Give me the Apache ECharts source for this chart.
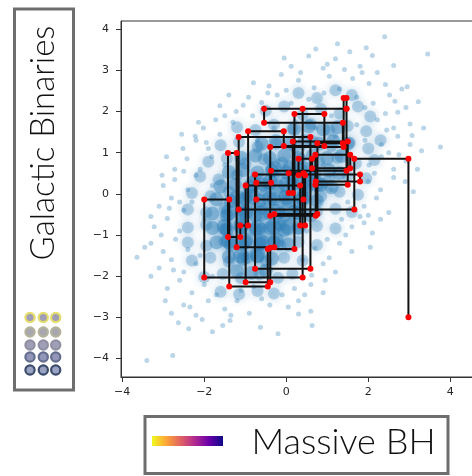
<!DOCTYPE html>
<html>
<head>
<meta charset="utf-8">
<script src="https://cdn.jsdelivr.net/npm/echarts@6/dist/echarts.min.js"></script>
<style>
  html, body { margin:0; padding:0; background:#fff; }
  #chart { width:472px; height:476px; }
</style>
</head>
<body>
<div id="chart"></div>
<script>
// tick labels on both axes
var xTicks = [-4, -2, 0, 2, 4];
var yTicks = [-4, -3, -2, -1, 0, 1, 2, 3, 4];

// faint outer samples of the galactic binary cloud
var cloudOuter = [
  [2.4,3.82],[3.45,3.4],[1.55,3.45],[0.55,3.35],[1.2,3.28],[1.8,3.1],[2.1,3.36],[0.9,3.05],[1.42,3.02],[0.12,3.1],[2.62,3.12],[0.72,3.52],[1.95,3.55],
  [-0.42,2.62],[0.3,2.76],[0.68,2.58],[1.05,2.86],[1.62,2.8],[2.02,2.68],[2.42,2.66],[-0.12,2.9],[1.3,2.55],[2.82,2.55],[0.0,2.52],[2.22,2.95],[-0.8,2.7],
  [-1.62,2.14],[-0.92,2.35],[-0.6,2.22],[-0.22,2.4],[0.12,2.2],[0.55,2.3],[0.92,2.45],[1.72,2.35],[2.12,2.2],[2.52,2.4],[2.92,2.1],[3.22,2.24],[-1.22,2.0],[2.72,1.98],[1.92,2.1],
  [-2.02,1.6],[-1.72,1.8],[-1.3,1.74],[-0.82,1.9],[-0.3,1.6],[0.22,1.75],[0.72,1.6],[1.1,1.9],[1.72,1.68],[2.22,1.8],[2.62,1.6],[3.02,1.7],[2.42,1.95],[-2.22,1.4],[-2.14,1.74],
  [-2.52,1.1],[-2.2,1.3],[-1.9,1.1],[-1.62,1.45],[-0.7,1.3],[0.4,1.1],[1.2,1.4],[1.92,1.3],[2.32,1.2],[2.72,1.4],[3.02,1.2],[3.3,1.05],[3.76,1.14],[2.5,1.0],[3.07,1.42],
  [-2.72,0.6],[-2.42,0.85],[-2.1,0.6],[-1.82,0.9],[-1.5,0.7],[-0.2,0.8],[0.9,0.7],[2.02,0.7],[2.32,0.9],[2.62,0.6],[2.92,0.8],[3.2,0.6],[-2.92,0.9],
  [-3.03,0.45],[-2.72,0.35],[-2.4,0.1],[-2.2,0.45],[-1.8,0.2],[2.0,0.3],[2.3,0.1],[2.62,0.4],[2.9,0.3],[3.1,0.05],[-0.5,0.2],[1.1,0.1],[-3.0,0.2],
  [-3.1,-0.3],[-2.8,-0.1],[-2.5,-0.4],[-2.3,-0.2],[1.9,-0.3],[2.2,-0.1],[2.5,-0.45],[2.0,-0.52],[-0.8,-0.3],[0.8,-0.2],[2.3,-0.62],
  [-3.22,-0.8],[-2.9,-0.6],[-2.6,-0.9],[1.6,-0.8],[1.9,-0.7],[2.1,-0.95],[-0.2,-0.7],[0.5,-0.9],[1.35,-0.62],
  [-3.3,-1.2],[-3.0,-1.4],[-2.7,-1.1],[-2.4,-1.35],[1.3,-1.2],[1.6,-1.4],[1.0,-1.1],[-3.64,-1.54],[0.7,-1.32],[2.05,-1.3],
  [-3.1,-1.8],[-2.8,-1.6],[-2.5,-1.9],[-2.2,-1.7],[0.9,-1.7],[1.2,-1.9],[0.4,-1.6],[-3.3,-2.0],[0.62,-1.98],
  [-2.9,-2.3],[-2.6,-2.1],[-2.3,-2.4],[-2.0,-2.2],[-1.7,-2.45],[0.6,-2.2],[0.9,-2.4],[0.2,-2.3],[-0.1,-2.45],
  [-2.8,-2.9],[-2.5,-2.7],[-2.2,-2.95],[-1.9,-2.6],[-1.5,-2.8],[-1.2,-2.6],[-0.9,-2.9],[-0.4,-2.7],[0.3,-2.6],[0.6,-2.85],[-0.6,-2.55],[-1.1,-2.35],
  [-2.63,-3.13],[-2.38,-3.28],[-1.37,-3.08],[-0.63,-3.24],[0.3,-2.92],[0.63,-3.2],[-2.77,-3.93],[-3.4,-4.05],[-1.8,-3.35],[-0.2,-3.4],
  [-2.6,-0.2],[-2.0,-0.6],[-2.1,-1.5],[-1.8,-2.0],[-2.35,-2.75],[-1.35,-2.95],[-0.8,-2.25],[0.05,-2.75],[0.45,-2.45],[1.05,-1.55],
  [1.45,-1.0],[1.8,-0.55],[2.15,0.5],[2.45,1.55],[2.65,2.25],[1.85,2.95],[1.0,3.15],[0.35,2.95],[-0.45,2.45],[-1.05,2.15],
  [-1.5,1.9],[-1.95,1.25],[-2.5,0.55],[-2.85,-0.35],[-3.05,-1.0],[-2.75,-1.85],[-1.55,-3.2],[-2.05,-3.05],[0.95,-2.1],[1.5,-0.2],
  [2.75,0.95],[3.35,1.6],[2.95,2.6],[1.25,3.65],[-0.05,3.3],[-1.4,2.4],[-2.55,1.45],[-3.3,-0.55],[-3.45,-1.3],[-2.95,-2.6]
];

// denser middle of the cloud
var cloudMid = [
  [0.3,2.45],[0.75,2.33],[1.2,2.52],[1.6,2.4],
  [-0.5,2.02],[-0.05,2.12],[0.4,1.93],[0.85,2.06],[1.3,1.95],[1.75,2.12],[2.05,1.88],
  [-1.2,1.62],[-0.75,1.55],[-0.3,1.68],[0.15,1.58],[0.6,1.7],[1.05,1.55],[1.5,1.65],[1.95,1.52],
  [-1.6,1.18],[-1.15,1.26],[-0.7,1.14],[-0.25,1.22],[0.2,1.12],[0.65,1.28],[1.1,1.16],[1.55,1.24],[2.0,1.1],[2.3,1.3],
  [-1.9,0.78],[-1.45,0.86],[-1.0,0.74],[-0.55,0.84],[-0.1,0.76],[0.35,0.85],[0.8,0.78],[1.25,0.88],[1.7,0.74],[2.15,0.82],
  [-2.1,0.42],[-1.65,0.35],[-1.2,0.46],[-0.75,0.38],[-0.3,0.44],[0.15,0.34],[0.6,0.45],[1.05,0.36],[1.5,0.44],[1.95,0.38],
  [-2.3,0.02],[-1.85,-0.06],[-1.4,0.05],[-0.95,-0.04],[-0.5,0.06],[-0.05,-0.05],[0.4,0.04],[0.85,-0.06],[1.3,0.05],[1.75,-0.02],
  [-2.4,-0.38],[-1.95,-0.45],[-1.5,-0.35],[-1.05,-0.44],[-0.6,-0.36],[-0.15,-0.45],[0.3,-0.35],[0.75,-0.43],[1.2,-0.36],[1.6,-0.44],
  [-2.4,-0.82],[-1.95,-0.75],[-1.5,-0.85],[-1.05,-0.76],[-0.6,-0.84],[-0.15,-0.76],[0.3,-0.85],[0.75,-0.78],[1.2,-0.84],
  [-2.4,-1.18],[-1.95,-1.26],[-1.5,-1.15],[-1.05,-1.24],[-0.6,-1.16],[-0.15,-1.25],[0.3,-1.17],[0.75,-1.24],
  [-2.3,-1.62],[-1.85,-1.55],[-1.4,-1.65],[-0.95,-1.56],[-0.5,-1.64],[-0.05,-1.55],[0.4,-1.62],
  [-2.0,-2.02],[-1.55,-1.95],[-1.1,-2.05],[-0.65,-1.96],[-0.2,-2.04],[0.15,-1.94],
  [-1.6,-2.38],[-1.15,-2.44],[-0.7,-2.36],[-0.3,-2.42]
];

// core of the cloud
var cloudCore = [
  [0.2,1.58],[0.55,1.64],[0.9,1.57],[1.25,1.62],
  [-0.6,1.22],[-0.25,1.28],[0.1,1.22],[0.45,1.28],[0.8,1.22],[1.15,1.28],[1.5,1.22],
  [-1.1,0.88],[-0.75,0.93],[-0.4,0.87],[-0.05,0.93],[0.3,0.87],[0.65,0.93],[1.0,0.87],[1.35,0.92],
  [-1.4,0.53],[-1.05,0.58],[-0.7,0.52],[-0.35,0.57],[0.0,0.52],[0.35,0.58],[0.7,0.52],[1.05,0.57],[1.3,0.5],
  [-1.6,0.18],[-1.25,0.23],[-0.9,0.17],[-0.55,0.22],[-0.2,0.18],[0.15,0.23],[0.5,0.17],[0.85,0.22],[1.1,0.16],
  [-1.7,-0.13],[-1.35,-0.18],[-1.0,-0.12],[-0.65,-0.17],[-0.3,-0.13],[0.05,-0.18],[0.4,-0.12],[0.75,-0.17],
  [-1.8,-0.48],[-1.45,-0.53],[-1.1,-0.47],[-0.75,-0.52],[-0.4,-0.48],[-0.05,-0.53],[0.3,-0.47],[0.6,-0.52],
  [-1.8,-0.83],[-1.45,-0.88],[-1.1,-0.82],[-0.75,-0.87],[-0.4,-0.83],[-0.05,-0.88],[0.3,-0.82],
  [-1.7,-1.18],[-1.35,-1.23],[-1.0,-1.17],[-0.65,-1.22],[-0.3,-1.18],[0.05,-1.23],
  [-1.4,-1.53],[-1.05,-1.58],[-0.7,-1.52],[-0.35,-1.57],
  [-1.2,-1.88],[-0.85,-1.92],[-0.5,-1.87]
];

// darkest centre
var cloudInner = [
  [-0.3,0.6],[0.1,0.62],[0.5,0.58],
  [-0.8,0.25],[-0.4,0.28],[0.0,0.23],[0.4,0.27],[0.75,0.24],
  [-1.2,-0.1],[-0.8,-0.08],[-0.4,-0.12],[0.0,-0.09],[0.4,-0.11],
  [-1.4,-0.45],[-1.0,-0.43],[-0.6,-0.47],[-0.2,-0.44],[0.2,-0.46],
  [-1.5,-0.8],[-1.1,-0.78],[-0.7,-0.82],[-0.3,-0.79],[0.05,-0.81],
  [-1.4,-1.15],[-1.0,-1.13],[-0.6,-1.17],[-0.25,-1.14],
  [-1.1,-1.5],[-0.7,-1.48]
];

// the sampling chain (alternating y / x moves), starts at lower right
var chain = [
  [2.98,-3.00],[2.98,0.85],[1.66,0.85],[1.66,-0.38],[-1.16,-0.38],[-1.16,1.38],[0.59,1.38],[0.59,-1.82],
  [-0.76,-1.82],[-0.76,0.47],[1.80,0.47],[1.80,0.30],[0.72,0.30],[0.72,-0.53],[-0.39,-0.53],[-0.39,1.14],
  [1.40,1.14],[1.40,2.33],[1.47,2.33],[1.47,2.07],[0.40,2.07],[0.40,-2.03],[-2.00,-2.03],[-2.00,-0.14],
  [-1.39,-0.14],[-1.39,-2.25],[-0.45,-2.25],[-0.45,-1.34],[0.20,-1.34],[0.20,1.94],[0.93,1.94],[0.93,1.16],
  [-0.06,1.16],[-0.06,1.52],[-0.93,1.52],[-0.93,-0.77],[-1.12,-0.77],[-1.12,-1.05],[-1.42,-1.05],[-1.42,0.99],
  [-1.21,0.99],[-1.21,-1.30],[-0.29,-1.30],[-0.29,-0.49],[0.76,-0.49],[0.76,1.23],[1.38,1.23],[1.38,1.73],
  [-0.54,1.73],[-0.54,2.07],[1.47,2.07],[1.47,0.56],[-0.37,0.56],[-0.37,0.27],[-0.73,0.27],[-0.73,-0.14],
  [0.42,-0.14],[0.42,0.50],[0.06,0.50],[0.06,0.02],[0.16,0.02],[0.16,1.27],[1.50,1.27],[1.50,0.22],
  [0.71,0.22],[0.71,0.95],[1.56,0.95],[1.56,0.62],[0.63,0.62],[0.63,0.85],[0.30,0.85],[0.30,0.45],
  [0.46,0.45],[0.46,-0.77],[0.34,-0.77],[0.34,0.20],[-0.99,0.20],[-0.99,-2.15],[-0.39,-2.15],[-0.39,-1.31]
];

// legend swatches
var gbFill = ['#a09db6', '#a8a7b0', '#a09fb8', '#9296b8', '#9aa2c2'];
var gbEdge = ['#e6de6a', '#b4b29a', '#9190a2', '#646e8e', '#3c4c6c'];
var bhColors = ['#f0f921', '#fca636', '#e16462', '#b12a90', '#6a00a8', '#0d0887'];

function fmt(v) {
  return v < 0 ? '\u2212' + Math.abs(v) : '' + v;
}

var chart = echarts.init(document.getElementById('chart'), null, {renderer: 'canvas'});

var graphics = [];
// left legend box
graphics.push({
  type: 'rect', shape: {x: 14.5, y: 9, width: 59, height: 381},
  style: {fill: '#fff', stroke: '#6e6e6e', lineWidth: 3}
});
graphics.push({
  type: 'text', x: 43, y: 143, rotation: Math.PI / 2,
  style: {text: 'Galactic Binaries', font: '300 33px Lato', fill: '#111',
          textAlign: 'center', textVerticalAlign: 'middle'}
});
var colX = [30, 43.3, 55.7];
var rowY = [317.5, 332, 345, 357, 370];
for (var r = 0; r < rowY.length; r++) {
  for (var c = 0; c < colX.length; c++) {
    graphics.push({
      type: 'circle', shape: {cx: colX[c], cy: rowY[r], r: 4.6},
      style: {fill: gbFill[r], stroke: gbEdge[r], lineWidth: 2.2}
    });
  }
}
// bottom legend box
graphics.push({
  type: 'rect', shape: {x: 145, y: 416.5, width: 303, height: 57},
  style: {fill: '#fff', stroke: '#6e6e6e', lineWidth: 3}
});
var stops = [];
for (var i = 0; i < bhColors.length; i++) {
  stops.push({offset: i / (bhColors.length - 1), color: bhColors[i]});
}
graphics.push({
  type: 'rect', shape: {x: 152, y: 436, width: 71, height: 10},
  style: {fill: new echarts.graphic.LinearGradient(0, 0, 1, 0, stops)}
});
graphics.push({
  type: 'text', x: 343.5, y: 442,
  style: {text: 'Massive BH', font: '300 36px Lato', fill: '#111',
          textAlign: 'center', textVerticalAlign: 'middle'}
});

var soft = {color: '#1f77b4', shadowColor: '#1f77b4', shadowBlur: 8};

var option = {
  animation: false,
  backgroundColor: '#fff',
  grid: {
    left: 121, top: 21, width: 360, height: 356,
    outerBoundsMode: 'none', containLabel: false,
    show: true, borderColor: '#333', borderWidth: 1
  },
  xAxis: {
    type: 'value', min: -4.03, max: 4.75,
    splitLine: {show: false},
    axisLine: {show: true, onZero: false, lineStyle: {color: '#333'}},
    axisTick: {show: true, length: 5, customValues: xTicks, lineStyle: {color: '#333'}},
    axisLabel: {customValues: xTicks, formatter: fmt, margin: 10,
                color: '#262626', fontSize: 11, fontFamily: 'DejaVu Sans'}
  },
  yAxis: {
    type: 'value', min: -4.45, max: 4.2,
    splitLine: {show: false},
    axisLine: {show: true, onZero: false, lineStyle: {color: '#333'}},
    axisTick: {show: true, length: 5, customValues: yTicks, lineStyle: {color: '#333'}},
    axisLabel: {customValues: yTicks, formatter: fmt, margin: 12,
                color: '#262626', fontSize: 11, fontFamily: 'DejaVu Sans'}
  },
  series: [
    {type: 'scatter', data: cloudMid, symbolSize: 12, silent: true,
     itemStyle: Object.assign({opacity: 0.28}, soft)},
    {type: 'scatter', data: cloudCore, symbolSize: 14, silent: true,
     itemStyle: Object.assign({opacity: 0.38}, soft)},
    {type: 'scatter', data: cloudInner, symbolSize: 16, silent: true,
     itemStyle: Object.assign({opacity: 0.38}, soft)},
    {type: 'scatter', data: cloudOuter, symbolSize: 5, silent: true,
     itemStyle: {color: '#1f77b4', opacity: 0.3}},
    {type: 'line', data: chain, z: 5, silent: true,
     symbol: 'circle', symbolSize: 6, showSymbol: true,
     lineStyle: {color: '#111', width: 2},
     itemStyle: {color: '#ff0000', borderWidth: 0}}
  ],
  graphic: graphics
};
chart.setOption(option);
</script>
</body>
</html>
